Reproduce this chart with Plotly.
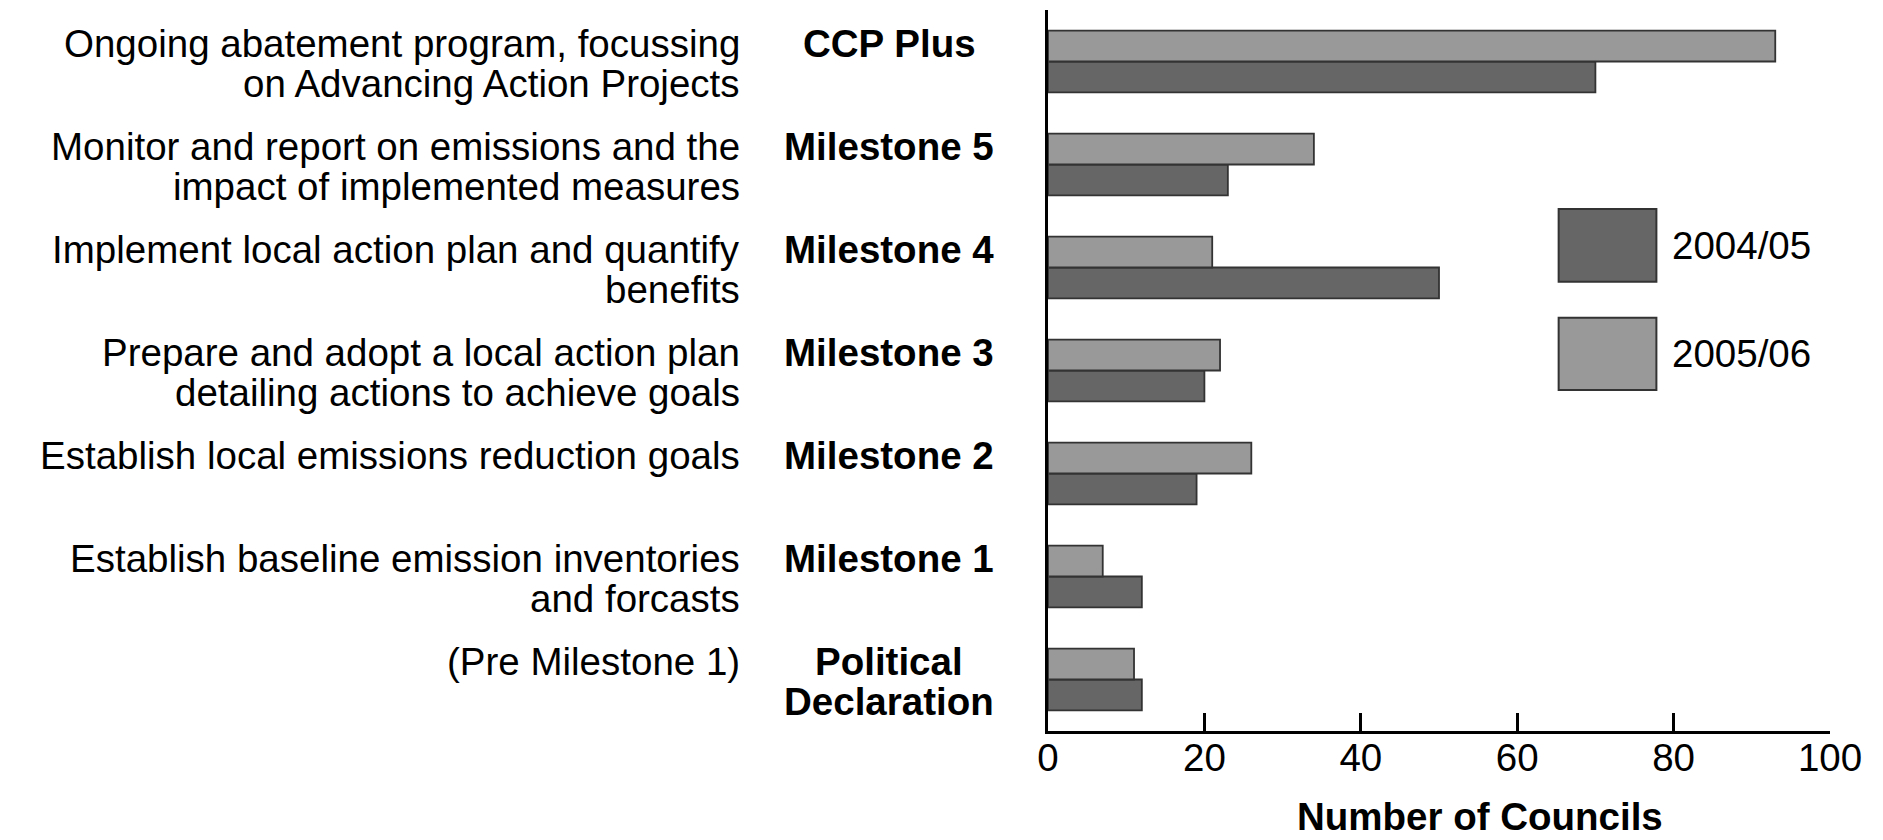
import plotly.graph_objects as go

# Categories, top to bottom
stages = ["CCP Plus", "Milestone 5", "Milestone 4", "Milestone 3",
          "Milestone 2", "Milestone 1", "Political Declaration"]
stage_lines = [["CCP Plus"], ["Milestone 5"], ["Milestone 4"], ["Milestone 3"],
               ["Milestone 2"], ["Milestone 1"], ["Political", "Declaration"]]
descriptions = [
    ["Ongoing abatement program, focussing", "on Advancing Action Projects"],
    ["Monitor and report on emissions and the", "impact of implemented measures"],
    ["Implement local action plan and quantify", "benefits"],
    ["Prepare and adopt a local action plan", "detailing actions to achieve goals"],
    ["Establish local emissions reduction goals"],
    ["Establish baseline emission inventories", "and forcasts"],
    ["(Pre Milestone 1)"],
]
councils_2004_05 = [70, 23, 50, 20, 19, 12, 12]
councils_2005_06 = [93, 34, 21, 22, 26, 7, 11]
series_names = ["2004/05", "2005/06"]
series_colors = ["#666666", "#999999"]
x_ticks = [0, 20, 40, 60, 80, 100]
x_title = "Number of Councils"

FONT = "Liberation Sans, Arial, sans-serif"
FS = 38.5

fig = go.Figure()
for name, vals, col in zip(series_names, [councils_2004_05, councils_2005_06], series_colors):
    fig.add_trace(go.Bar(
        y=stages, x=vals, name=name, orientation="h",
        marker=dict(color=col, line=dict(color="#333333", width=1.8)),
        showlegend=False,
    ))

annotations = []
for cat, desc, lab in zip(stages, descriptions, stage_lines):
    for i, line in enumerate(desc):
        annotations.append(dict(
            xref="paper", yref="y", x=0, y=cat, xshift=-306, yshift=18 - 40 * i,
            xanchor="right", yanchor="middle", text=line, showarrow=False,
            font=dict(family=FONT, size=FS, color="black")))
    for i, line in enumerate(lab):
        annotations.append(dict(
            xref="paper", yref="y", x=0, y=cat, xshift=-159, yshift=18 - 40 * i,
            xanchor="center", yanchor="middle", text="<b>" + line + "</b>", showarrow=False,
            font=dict(family=FONT, size=FS, color="black")))

# Axis title
annotations.append(dict(
    xref="paper", yref="paper", x=0.552, y=-0.119, xanchor="center", yanchor="middle",
    text="<b>" + x_title + "</b>", showarrow=False,
    font=dict(family=FONT, size=FS, color="black")))

# Legend (large swatches)
shapes = []
legend_rows = [(0.724, 0.623, 0.673), (0.573, 0.473, 0.524)]
for (top, bot, mid), name, col in zip(legend_rows, series_names, series_colors):
    shapes.append(dict(type="rect", xref="paper", yref="paper",
                       x0=0.653, x1=0.778, y0=bot, y1=top,
                       fillcolor=col, line=dict(color="#333333", width=2)))
    annotations.append(dict(
        xref="paper", yref="paper", x=0.795, y=mid, xanchor="left", yanchor="middle",
        text=name, showarrow=False, font=dict(family=FONT, size=FS, color="black")))

fig.update_layout(
    width=1883, height=840,
    margin=dict(l=1048, r=53, t=10, b=109, pad=0),
    paper_bgcolor="white", plot_bgcolor="white",
    barmode="group", bargap=0.4, bargroupgap=0,
    font=dict(family=FONT, size=FS, color="black"),
    annotations=annotations, shapes=shapes,
    xaxis=dict(range=[0, 100], tickvals=x_ticks, ticks="inside", ticklen=18,
               tickwidth=3, tickcolor="black", showline=True, linecolor="black",
               linewidth=3, showgrid=False, zeroline=False, ticklabelstandoff=-9,
               tickfont=dict(family=FONT, size=FS, color="black")),
    yaxis=dict(type="category", categoryorder="array",
               categoryarray=list(reversed(stages)), range=[-0.5, 6.5],
               showticklabels=False, ticks="", showline=True, linecolor="black",
               linewidth=3, showgrid=False, zeroline=False),
)

fig.write_html("out.html", config={"displayModeBar": False},
               post_script="document.body.style.margin='0';document.body.style.overflow='hidden';")
